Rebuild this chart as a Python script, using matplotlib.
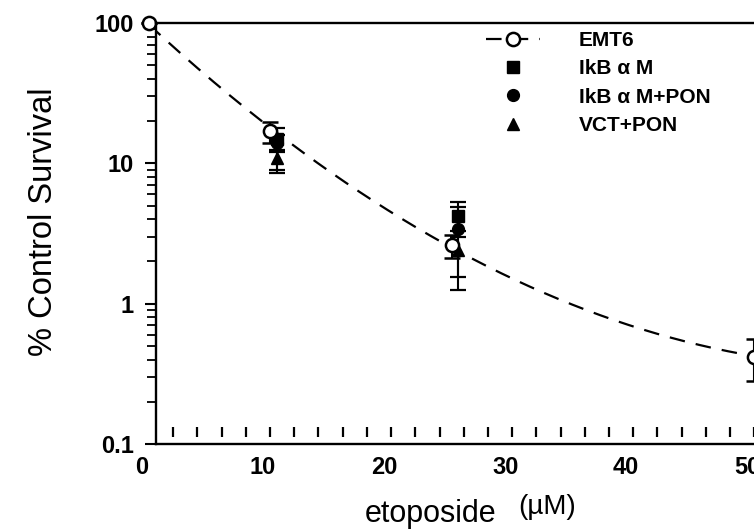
import numpy as np
import matplotlib
matplotlib.use('Agg')
import matplotlib.pyplot as plt
from matplotlib.lines import Line2D

plt.rcParams['font.family'] = ['Liberation Sans', 'DejaVu Sans']

# EMT6 control cells (open circles, dashed fitted curve)
emt6_x = [0, 10, 25, 50]
emt6_y = [100, 17, 2.6, 0.42]
emt6_lo = [100, 14, 2.1, 0.28]
emt6_hi = [100, 19.8, 3.1, 0.56]

# IkB alpha M
ikb_x = [10.6, 25.5]
ikb_y = [15, 4.2]
ikb_lo = [9.0, 3.3]
ikb_hi = [18, 5.3]

# IkB alpha M + PON
ikbpon_x = [10.6, 25.5]
ikbpon_y = [14, 3.4]
ikbpon_lo = [12, 1.55]
ikbpon_hi = [16, 4.9]

# VCT + PON
vct_x = [10.6, 25.5]
vct_y = [11, 2.4]
vct_lo = [8.6, 1.25]
vct_hi = [12.5, 3.0]

xtick_labels = ['0', '10', '20', '30', '40', '50']
ytick_vals = [0.1, 1, 10, 100]
ytick_labels = ['0.1', '1', '10', '100']


def yerr(y, lo, hi):
    y = np.array(y)
    return [y - np.array(lo), np.array(hi) - y]


fig = plt.figure(figsize=(7.54, 5.31), dpi=100)
ax = fig.add_axes([156 / 754, 1 - 444 / 531, 614 / 754, 421 / 531])
ax.set_yscale('log')
ax.set_ylim(0.1, 100)
ax.set_xlim(0.58, 51.3)

# fitted survival curve through the EMT6 points
coef = np.polyfit(emt6_x, np.log10(emt6_y), 2)
xs = np.linspace(0, 50, 300)
ax.plot(xs, 10 ** np.polyval(coef, xs), color='black', lw=1.6,
        dashes=(7, 5))

kw = dict(color='black', capsize=6, elinewidth=1.5, capthick=1.6,
          ls='none', clip_on=False)
ax.errorbar(ikb_x, ikb_y, yerr=yerr(ikb_y, ikb_lo, ikb_hi), marker='s',
            ms=8, **kw)
ax.errorbar(ikbpon_x, ikbpon_y, yerr=yerr(ikbpon_y, ikbpon_lo, ikbpon_hi),
            marker='o', ms=8.5, **kw)
ax.errorbar(vct_x, vct_y, yerr=yerr(vct_y, vct_lo, vct_hi), marker='^',
            ms=9, **kw)
ax.errorbar(emt6_x, emt6_y, yerr=yerr(emt6_y, emt6_lo, emt6_hi), marker='o',
            ms=9.5, mfc='white', mew=1.8, **kw)

# spines / ticks
ax.spines['right'].set_visible(False)
for s in ['left', 'bottom', 'top']:
    ax.spines[s].set_linewidth(1.7)

# the x ticks of the original float a little above the bottom spine
ax.set_xticks([])
minor_x = np.arange(2, 51, 2)
ax.plot(minor_x, np.full(len(minor_x), 0.029), ls='none', marker='|',
        ms=6.5, mew=1.6, color='black',
        transform=ax.get_xaxis_transform(), clip_on=False)

ax.set_yticks(ytick_vals)
ax.set_yticklabels(ytick_labels, fontweight='bold')
ax.tick_params(axis='y', which='major', direction='out', length=8,
               width=1.5, labelsize=17, pad=8)
ax.tick_params(axis='y', which='minor', direction='out', length=6.5,
               width=1.3)

# x tick labels sit slightly left of the tick grid in the original
for i, lab in enumerate(xtick_labels):
    ax.annotate(lab, xy=(i * 10, 0), xycoords=('data', 'axes fraction'),
                xytext=(-7, -12), textcoords='offset pixels', ha='center',
                va='top', fontsize=17, fontweight='bold',
                annotation_clip=False)

fig.text(44 / 754, 1 - 222 / 531, '% Control Survival', fontsize=23.5,
         rotation=90, ha='center', va='center')
fig.text(431 / 754, 1 - 514 / 531, 'etoposide', fontsize=22,
         ha='center', va='center')
fig.text(547 / 754, 1 - 507 / 531, '(\u00b5M)', fontsize=20,
         ha='center', va='center')

handles = [
    Line2D([], [], color='black', lw=1.6, dashes=(7, 5), marker='o',
           ms=9.5, mfc='white', mew=1.8),
    Line2D([], [], color='black', ls='none', marker='s', ms=8),
    Line2D([], [], color='black', ls='none', marker='o', ms=8.5),
    Line2D([], [], color='black', ls='none', marker='^', ms=9),
]
labels = ['EMT6', 'IkB \u03b1 M', 'IkB \u03b1 M+PON', 'VCT+PON']
ax.legend(handles, labels, loc='upper left', frameon=False,
          prop={'size': 15, 'weight': 'bold'},
          bbox_to_anchor=(486 / 754, 1 - 31 / 531),
          bbox_transform=fig.transFigure, borderpad=0, borderaxespad=0,
          handlelength=2.6, handletextpad=1.85, labelspacing=0.45)

fig.savefig('out.png', dpi=100)
